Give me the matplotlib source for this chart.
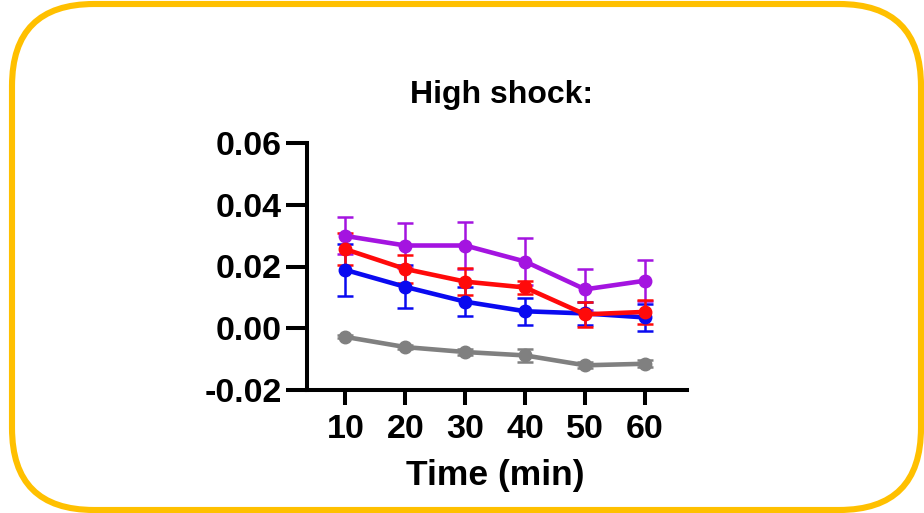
import matplotlib
matplotlib.use("Agg")
import matplotlib.pyplot as plt
from matplotlib.patches import FancyBboxPatch

plt.rcParams['font.family'] = ['Liberation Sans', 'DejaVu Sans']
plt.rcParams['font.weight'] = 'bold'

time_min = [10, 20, 30, 40, 50, 60]

gray_mean = [-0.0028, -0.0061, -0.0077, -0.0088, -0.0120, -0.0115]
gray_err = [0.0005, 0.0006, 0.0010, 0.0022, 0.0010, 0.0012]

blue_mean = [0.0189, 0.0134, 0.0086, 0.0055, 0.0048, 0.0035]
blue_err = [0.0084, 0.0070, 0.0047, 0.0043, 0.0038, 0.0044]

purple_mean = [0.0299, 0.0268, 0.0268, 0.0216, 0.0126, 0.0154]
purple_err = [0.0060, 0.0073, 0.0076, 0.0076, 0.0066, 0.0067]

red_mean = [0.0256, 0.0192, 0.0151, 0.0132, 0.0045, 0.0053]
red_err = [0.0052, 0.0045, 0.0043, 0.0022, 0.0040, 0.0040]

series = [
    (gray_mean, gray_err, '#808080'),
    (blue_mean, blue_err, '#0A0AF0'),
    (purple_mean, purple_err, '#A414E0'),
    (red_mean, red_err, '#FF0A0A'),
]

y_ticks = [-0.02, 0.00, 0.02, 0.04, 0.06]

W, H = 924, 513
fig = plt.figure(figsize=(W / 100, H / 100), dpi=100)

# background layer in pixel units for the rounded gold frame
bg = fig.add_axes([0, 0, 1, 1])
bg.set_xlim(0, W)
bg.set_ylim(H, 0)
bg.axis('off')
frame = FancyBboxPatch((12, 4), 909, 506,
                       boxstyle="round,pad=0,rounding_size=82",
                       fill=False, edgecolor='#FFC000', linewidth=4.4)
bg.add_patch(frame)

ax = fig.add_axes([307 / W, 1 - 390 / H, 380 / W, 247 / H])

for mean, err, color in series:
    ax.errorbar(time_min, mean, yerr=err, color=color, linewidth=3.3,
                marker='o', markersize=9, elinewidth=1.8, capsize=5.5,
                capthick=1.8)

ax.set_xlim(3.6, 67)
ax.set_ylim(-0.02, 0.06)
ax.set_xticks(time_min)
ax.set_yticks(y_ticks)
ax.set_yticklabels([f"{v:.2f}" for v in y_ticks])

for side in ['top', 'right']:
    ax.spines[side].set_visible(False)
for side in ['left', 'bottom']:
    ax.spines[side].set_linewidth(2.9)

ax.tick_params(axis='y', length=15, width=2.9, labelsize=24.5, pad=3)
ax.tick_params(axis='x', length=11, width=2.9, labelsize=24.5, pad=6)
for lab in ax.get_xticklabels() + ax.get_yticklabels():
    lab.set_fontweight('bold')

fig.text(502 / W, 1 - 95 / H, "High shock:", ha='center', va='center',
         fontsize=23, fontweight='bold')
fig.text(495 / W, 1 - 476 / H, "Time (min)", ha='center', va='center',
         fontsize=25.5, fontweight='bold')

fig.savefig("out.png", dpi=100)
